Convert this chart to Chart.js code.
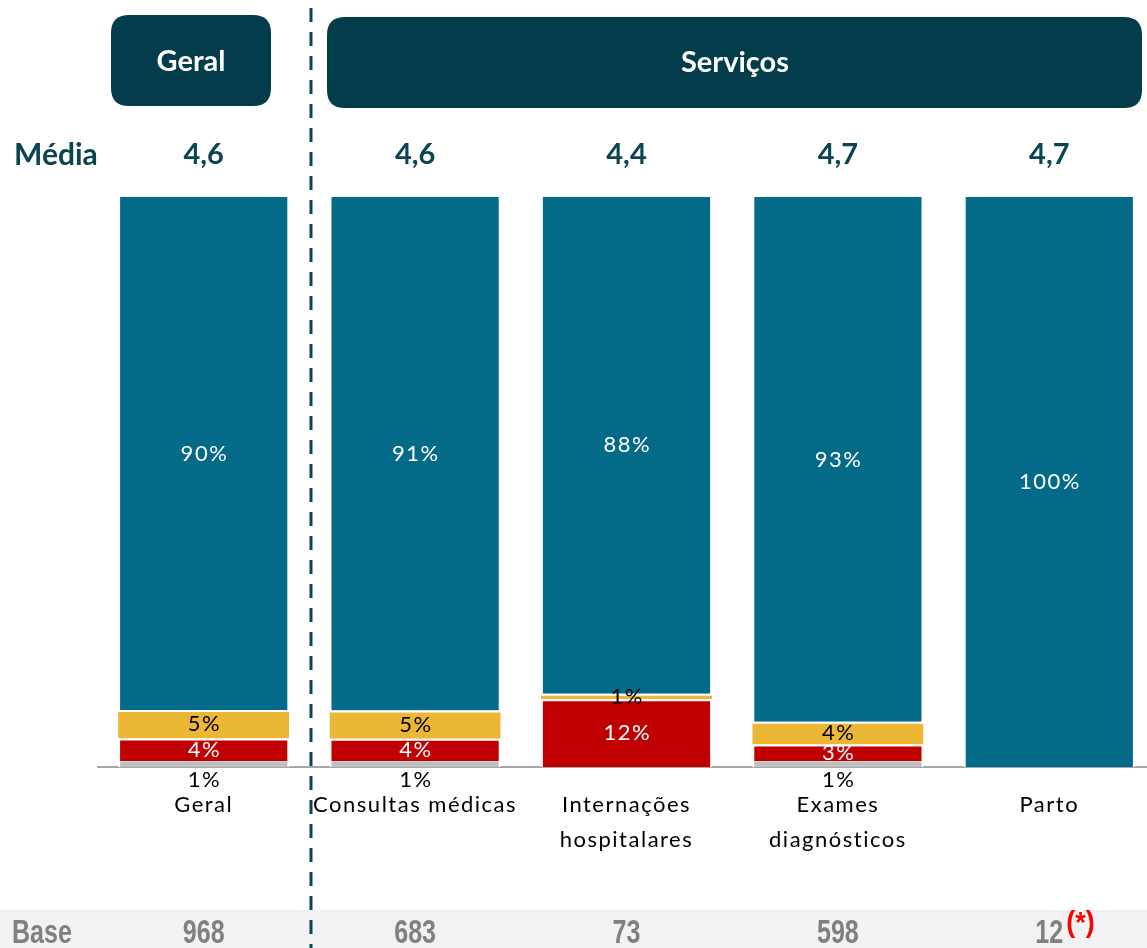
<!DOCTYPE html>
<html>
<head>
<meta charset="utf-8">
<script src="https://cdn.jsdelivr.net/npm/chart.js@4.4.1/dist/chart.umd.min.js"></script>
<style>
html,body{margin:0;padding:0;background:#fff;overflow:hidden;width:1147px;height:948px;}
canvas{display:block;}
</style>
</head>
<body>
<canvas id="c" width="1160" height="948"></canvas>
<script>
const categories = ["Geral", "Consultas médicas", ["Internações", "hospitalares"], ["Exames", "diagnósticos"], "Parto"];
const muitoSatisfeito = [90, 91, 88, 93, 100];
const neutro = [5, 5, 1, 4, 0];
const insatisfeito = [4, 4, 12, 3, 0];
const naoSabe = [1, 1, 0, 1, 0];
const media = ["4,6", "4,6", "4,4", "4,7", "4,7"];
const base = ["968", "683", "73", "598", "12"];
const groupHeaders = ["Geral", "Serviços"];

const series = [naoSabe, insatisfeito, neutro, muitoSatisfeito];
const totals = categories.map((_, i) => series.reduce((s, a) => s + a[i], 0));
const norm = arr => arr.map((v, i) => v * 100 / totals[i]);

const FONT = "Lato, 'Open Sans', sans-serif";
const NARROW = "'Liberation Sans', Arial, sans-serif";
const DARK = '#033c4a';

function rr(ctx, x, y, w, h, r) {
  ctx.beginPath();
  ctx.moveTo(x + r, y);
  ctx.lineTo(x + w - r, y);
  ctx.quadraticCurveTo(x + w, y, x + w, y + r);
  ctx.lineTo(x + w, y + h - r);
  ctx.quadraticCurveTo(x + w, y + h, x + w - r, y + h);
  ctx.lineTo(x + r, y + h);
  ctx.quadraticCurveTo(x, y + h, x, y + h - r);
  ctx.lineTo(x, y + r);
  ctx.quadraticCurveTo(x, y, x + r, y);
  ctx.closePath();
}

function condensed(ctx, text, x, y, align, sx) {
  ctx.save();
  ctx.translate(x, y);
  ctx.scale(sx, 1);
  ctx.textAlign = align;
  ctx.fillText(text, 0, 0);
  ctx.restore();
}

const decor = {
  id: 'decor',
  beforeDraw(chart) {
    const ctx = chart.ctx;
    ctx.save();
    ctx.fillStyle = '#f2f2f2';
    ctx.fillRect(0, 910, 1147, 38);
    ctx.fillStyle = DARK;
    rr(ctx, 111, 15, 160, 91, 18); ctx.fill();
    rr(ctx, 327, 17, 815, 91, 18); ctx.fill();
    ctx.fillStyle = '#ffffff';
    ctx.font = "bold 29px " + FONT;
    ctx.textAlign = 'center';
    ctx.textBaseline = 'middle';
    ctx.fillText(groupHeaders[0], 191, 62);
    ctx.fillText(groupHeaders[1], 735, 63);
    ctx.restore();
    // letter spacing for axis tick labels
    ctx.letterSpacing = '1.5px';
  },
  afterDraw(chart) {
    const ctx = chart.ctx;
    const xs = chart.scales.x;
    ctx.save();
    ctx.letterSpacing = '0px';
    ctx.fillStyle = '#0c4451';
    ctx.textBaseline = 'middle';
    ctx.font = "bold 30px " + FONT;
    ctx.textAlign = 'left';
    ctx.fillText('Média', 14, 155);
    ctx.textAlign = 'center';
    ctx.font = "bold 29px " + FONT;
    media.forEach((m, i) => ctx.fillText(m, xs.getPixelForValue(i), 155));
    // Base row
    ctx.fillStyle = '#808080';
    ctx.font = "bold 33px " + NARROW;
    condensed(ctx, 'Base', 12, 934, 'left', 0.76);
    base.forEach((b, i) => condensed(ctx, b, xs.getPixelForValue(i), 934, 'center', 0.76));
    const lastX = xs.getPixelForValue(base.length - 1);
    const w = ctx.measureText(base[base.length - 1]).width * 0.76;
    ctx.fillStyle = '#ff0000';
    ctx.font = "bold 30px " + NARROW;
    condensed(ctx, '(*)', lastX + w / 2 + 3, 924, 'left', 0.9);
    // dashed separator
    ctx.strokeStyle = '#0b4452';
    ctx.lineWidth = 3;
    ctx.setLineDash([14, 10]);
    ctx.beginPath();
    ctx.moveTo(311, 8);
    ctx.lineTo(311, 948);
    ctx.stroke();
    ctx.setLineDash([]);
    // value labels
    ctx.letterSpacing = '1.5px';
    ctx.font = "22px " + FONT;
    ctx.textAlign = 'center';
    ctx.textBaseline = 'middle';
    const colors = ['#000000', '#ffffff', '#000000', '#ffffff'];
    chart.data.datasets.forEach((ds, di) => {
      const meta = chart.getDatasetMeta(di);
      meta.data.forEach((el, i) => {
        const v = series[di][i];
        if (!v) return;
        let y = (el.y + el.base) / 2;
        if (di === 0) y = chart.chartArea.bottom + 13;
        ctx.fillStyle = colors[di];
        ctx.fillText(v + '%', el.x + 0.75, y);
      });
    });
    ctx.restore();
  }
};

new Chart(document.getElementById('c'), {
  type: 'bar',
  data: {
    labels: categories,
    datasets: [
      { label: 'Não sabe', data: norm(naoSabe), backgroundColor: '#bfbfbf', borderColor: '#ffffff', borderWidth: {top: 0, left: 2, right: 2, bottom: 0}, borderSkipped: false },
      { label: 'Insatisfeito', data: norm(insatisfeito), backgroundColor: '#c00000', borderColor: '#ffffff', borderWidth: {top: 2, left: 2, right: 2, bottom: 0}, borderSkipped: false },
      { label: 'Neutro', data: norm(neutro), backgroundColor: '#ebb734', borderColor: '#ffffff', borderWidth: {top: 2, left: 0, right: 0, bottom: 0}, borderSkipped: false },
      { label: 'Satisfeito', data: norm(muitoSatisfeito), backgroundColor: '#036b87', borderColor: '#ffffff', borderWidth: {top: 0, left: 2, right: 2, bottom: 0}, borderSkipped: false }
    ]
  },
  options: {
    responsive: false,
    animation: false,
    events: [],
    layout: { padding: { left: 98, right: 5, top: 197, bottom: 0 } },
    plugins: { legend: { display: false }, tooltip: { enabled: false } },
    datasets: { bar: { categoryPercentage: 0.81, barPercentage: 1 } },
    scales: {
      x: {
        stacked: true,
        grid: { display: false, drawTicks: false },
        border: { display: true, color: '#a6a6a6', width: 2 },
        ticks: { color: '#000000', font: { family: FONT, size: 22, lineHeight: 1.6 }, padding: 20, maxRotation: 0, autoSkip: false },
        afterFit(scale) { scale.height = 181; }
      },
      y: {
        stacked: true,
        display: false,
        min: 0,
        max: 100
      }
    }
  },
  plugins: [decor]
});
</script>
</body>
</html>
